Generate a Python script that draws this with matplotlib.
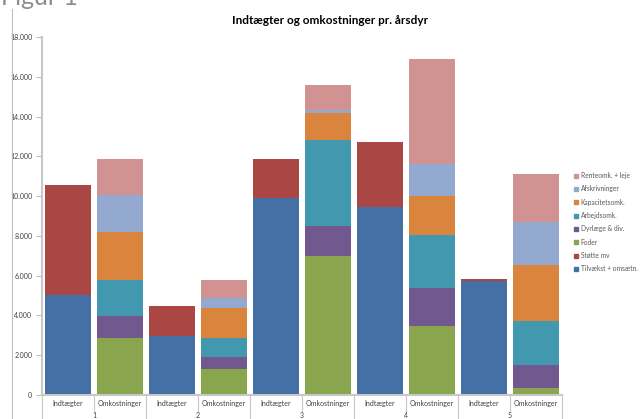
import numpy as np
import matplotlib.pyplot as plt
from matplotlib.lines import Line2D
from matplotlib.patches import Patch

plt.rcParams['font.family'] = ['Lato', 'DejaVu Sans']

# data (kr. pr. aarsdyr), aflaest fra figuren
grupper = ['1', '2', '3', '4', '5']
typer = ['Indtægter', 'Omkostninger']

serier = ['Tilvækst + omsætn.', 'Støtte mv', 'Foder', 'Dyrlæge & div.',
          'Arbejdsomk.', 'Kapacitetsomk.', 'Afskrivninger', 'Renteomk. + leje']

# indtaegter (kun de to foerste serier)
tilvaekst = [5050, 2960, 9930, 9450, 5740]
stoette = [5500, 1500, 1940, 3250, 90]

# omkostninger
foder = [2860, 1320, 6980, 3480, 370]
dyrlaege = [1110, 590, 1510, 1900, 1140]
arbejde = [1810, 940, 4310, 2650, 2190]
kapacitet = [2410, 1520, 1360, 1990, 2830]
afskriv = [1880, 500, 160, 1570, 2180]
rente = [1790, 910, 1270, 5290, 2390]

farver = ['#4470A5', '#AA4643', '#89A54E', '#71588F',
          '#4198AF', '#DB843D', '#93A9CF', '#D19392']

#--------------------------------------------------------------------
# grafik
#--------------------------------------------------------------------

fig = plt.figure(figsize=(6.42, 4.19), dpi=100)
ax = fig.add_axes([42/642, 1-395/419, 520/642, 358/419])

x_ind = np.arange(5) * 2
x_omk = x_ind + 1
w = 0.9

ax.bar(x_ind, tilvaekst, w, color=farver[0], linewidth=0)
ax.bar(x_ind, stoette, w, bottom=tilvaekst, color=farver[1], linewidth=0)

bund = np.zeros(5)
for i, v in enumerate([foder, dyrlaege, arbejde, kapacitet, afskriv, rente]):
    ax.bar(x_omk, v, w, bottom=bund, color=farver[i+2], linewidth=0)
    bund = bund + np.array(v)

ax.set_xlim(-0.5, 9.5)
ax.set_ylim(0, 18000)
ax.set_yticks(np.arange(0, 18001, 2000))
ax.set_yticklabels([f'{v:,}'.replace(',', '.') for v in range(0, 18001, 2000)],
                   fontsize=5, color='#404040')
ax.tick_params(axis='y', length=4, width=0.8, color='#BFBFBF', pad=3)
ax.set_xticks([])

for s in ['top', 'right']:
    ax.spines[s].set_visible(False)
for s in ['left', 'bottom']:
    ax.spines[s].set_color('#C8C8C8')
    ax.spines[s].set_linewidth(1.5)

tr = ax.get_xaxis_transform()
for k in range(10):
    ax.text(k, -0.025, typer[k % 2], transform=tr, ha='center', va='center',
            fontsize=5, color='#404040')
for g in range(5):
    ax.text(2*g + 0.5, -0.056, grupper[g], transform=tr, ha='center',
            va='center', fontsize=5, color='#404040')
for b in range(11):
    y0 = -0.08 if b % 2 == 0 else -0.045
    ax.plot([b - 0.5, b - 0.5], [0, y0], transform=tr, color='#C8C8C8',
            lw=0.8, clip_on=False)

fig.text(330/642, 1-20/419, 'Indtægter og omkostninger pr. årsdyr',
         ha='center', va='center', fontsize=8.5, fontweight='bold')

# legende, oeverste serie foerst
handles = [Patch(color=farver[i]) for i in range(7, -1, -1)]
labels = [serier[i] for i in range(7, -1, -1)]
fig.legend(handles, labels, loc='upper left', bbox_to_anchor=(574/642, 1-172/419),
           frameon=False, fontsize=4.8, handlelength=0.6, handleheight=0.6,
           handletextpad=0.4, labelspacing=0.95, labelcolor='#595959',
           borderaxespad=0, borderpad=0)

# side-ramme og figurnummer
fig.add_artist(Line2D([12/642, 12/642], [0, 1-9/419], color='#BFBFBF', lw=0.8))
fig.text(1/642, 1-5/419, 'Figur 1', fontsize=18, color='#8C8C8C',
         ha='left', va='baseline')

fig.savefig('out.png', dpi=100)
